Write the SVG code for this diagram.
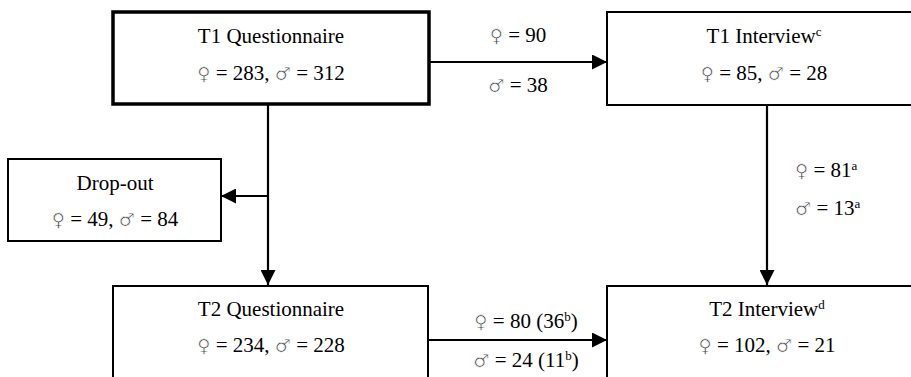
<svg xmlns="http://www.w3.org/2000/svg" width="911" height="377" viewBox="0 0 911 377">
<style>
.box{fill:#fff;stroke:#000;stroke-width:2}
.thick{stroke-width:3.5}
text{font-family:"Liberation Serif","Times New Roman","DejaVu Serif",serif;font-size:21px;fill:#000}
.c{text-anchor:middle}
.sup{font-size:13px}
.g{font-family:"DejaVu Sans",sans-serif;font-size:18px;fill:#222;stroke:#fff;stroke-width:0.7}
.conn{fill:none;stroke:#000;stroke-width:2.2}
</style>
<defs>
<marker id="ah" markerUnits="userSpaceOnUse" markerWidth="15" markerHeight="15" viewBox="0 0 15 15" refX="15" refY="7.5" orient="auto">
<path d="M0,0 L15,7.5 L0,15 z" fill="#000"/>
</marker>
</defs>
<rect width="911" height="377" fill="#fff"/>
<g id="connectors">
<path class="conn" d="M429,62 H607" marker-end="url(#ah)"/>
<path class="conn" d="M268,105 V285" marker-end="url(#ah)"/>
<path class="conn" d="M268,196 H221" marker-end="url(#ah)"/>
<path class="conn" d="M767,105 V285" marker-end="url(#ah)"/>
<path class="conn" d="M428,340 H607" marker-end="url(#ah)"/>
<text class="c" x="518" y="42"><tspan class="g">♀</tspan> = 90</text>
<text class="c" x="518" y="92"><tspan class="g">♂</tspan> = 38</text>
<text x="795" y="177"><tspan class="g">♀</tspan> = 81<tspan class="sup" baseline-shift="super">a</tspan></text>
<text x="795" y="215"><tspan class="g">♂</tspan> = 13<tspan class="sup" baseline-shift="super">a</tspan></text>
<text class="c" x="526" y="328"><tspan class="g">♀</tspan> = 80 (36<tspan class="sup" baseline-shift="super">b</tspan>)</text>
<text class="c" x="526" y="367"><tspan class="g">♂</tspan> = 24 (11<tspan class="sup" baseline-shift="super">b</tspan>)</text>
</g>
<g id="t1q">
<rect class="box thick" x="113" y="12" width="316" height="92"/>
<text class="c" x="271" y="43">T1 Questionnaire</text>
<text class="c" x="271" y="80"><tspan class="g">♀</tspan> = 283, <tspan class="g">♂</tspan> = 312</text>
</g>
<g id="t1i">
<rect class="box" x="607" y="12" width="316" height="93"/>
<text class="c" x="764" y="43">T1 Interview<tspan class="sup" baseline-shift="super">c</tspan></text>
<text class="c" x="764" y="80"><tspan class="g">♀</tspan> = 85, <tspan class="g">♂</tspan> = 28</text>
</g>
<g id="dropout">
<rect class="box" x="8" y="159" width="213" height="82"/>
<text class="c" x="115" y="190">Drop-out</text>
<text class="c" x="115" y="226"><tspan class="g">♀</tspan> = 49, <tspan class="g">♂</tspan> = 84</text>
</g>
<g id="t2q">
<rect class="box" x="113" y="286" width="315" height="100"/>
<text class="c" x="271" y="316">T2 Questionnaire</text>
<text class="c" x="271" y="352"><tspan class="g">♀</tspan> = 234, <tspan class="g">♂</tspan> = 228</text>
</g>
<g id="t2i">
<rect class="box" x="607" y="286" width="316" height="100"/>
<text class="c" x="767" y="316">T2 Interview<tspan class="sup" baseline-shift="super">d</tspan></text>
<text class="c" x="767" y="352"><tspan class="g">♀</tspan> = 102, <tspan class="g">♂</tspan> = 21</text>
</g>
</svg>
